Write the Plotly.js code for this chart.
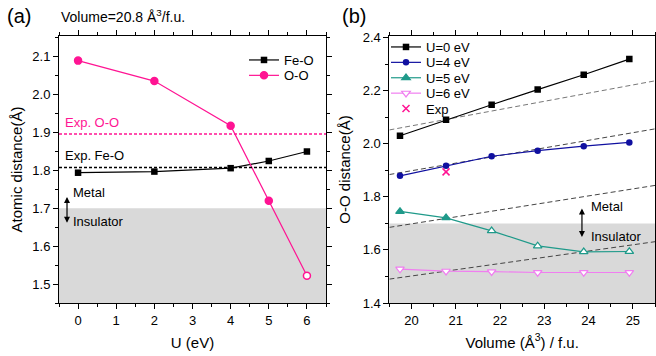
<!DOCTYPE html>
<html><head><meta charset="utf-8">
<script src="https://cdn.plot.ly/plotly-3.0.1.min.js"></script>
<style>html,body{margin:0;padding:0;background:#fff}</style>
</head><body>
<div id="plot" style="width:656px;height:356px"></div>
<script>
// ---- Panel (a) data ----
const uVals = [0, 2, 4, 5, 6];
const feO = [1.794, 1.797, 1.806, 1.825, 1.850];
const oO = [2.090, 2.036, 1.918, 1.720, 1.522];
const expOO = 1.896;
const expFeO = 1.808;

// ---- Panel (b) data ----
const volumes = [19.74, 20.78, 21.81, 22.85, 23.89, 24.92];
const u0 = [2.030, 2.090, 2.147, 2.204, 2.260, 2.319];
const u4 = [1.879, 1.917, 1.953, 1.974, 1.991, 2.005];
const u5 = [1.745, 1.721, 1.672, 1.615, 1.593, 1.594];
const u6 = [1.528, 1.520, 1.518, 1.515, 1.515, 1.515];
const expVol = [20.78];
const expDist = [1.894];
const guideX = [19.5, 25.5];
const guide1 = [2.052, 2.237];
const guide2 = [1.884, 2.056];
const guide3 = [1.685, 1.843];
const guide4 = [1.490, 1.631];

const PINK = '#ff1493', BLUE = '#1010a0', TEAL = '#1f9a8a', VIOLET = '#f07ef0';
const FONT = 'Liberation Sans, Arial, sans-serif';

const traces = [
  {x: uVals, y: feO, name: 'Fe-O', mode: 'lines+markers', xaxis: 'x', yaxis: 'y', legend: 'legend',
   line: {color: '#000', width: 1.2}, marker: {symbol: 'square', size: 6.5, color: '#000'}},
  {x: uVals, y: oO, name: 'O-O', mode: 'lines+markers', xaxis: 'x', yaxis: 'y', legend: 'legend',
   line: {color: PINK, width: 1.2},
   marker: {symbol: 'circle', size: 7, color: [PINK, PINK, PINK, PINK, '#fff'], line: {color: PINK, width: 1.5}}},
  // guide lines (b)
  {x: guideX, y: guide1, mode: 'lines', xaxis: 'x2', yaxis: 'y2', showlegend: false, hoverinfo: 'skip',
   line: {color: '#777', width: 1, dash: '5px,3px'}},
  {x: guideX, y: guide2, mode: 'lines', xaxis: 'x2', yaxis: 'y2', showlegend: false, hoverinfo: 'skip',
   line: {color: '#444', width: 1, dash: '5px,3px'}},
  {x: guideX, y: guide3, mode: 'lines', xaxis: 'x2', yaxis: 'y2', showlegend: false, hoverinfo: 'skip',
   line: {color: '#444', width: 1, dash: '5px,3px'}},
  {x: guideX, y: guide4, mode: 'lines', xaxis: 'x2', yaxis: 'y2', showlegend: false, hoverinfo: 'skip',
   line: {color: '#444', width: 1, dash: '5px,3px'}},
  {x: volumes, y: u0, name: 'U=0 eV', mode: 'lines+markers', xaxis: 'x2', yaxis: 'y2', legend: 'legend2',
   line: {color: '#000', width: 1.2}, marker: {symbol: 'square', size: 6.5, color: '#000'}},
  {x: volumes, y: u4, name: 'U=4 eV', mode: 'lines+markers', xaxis: 'x2', yaxis: 'y2', legend: 'legend2',
   line: {color: BLUE, width: 1.2}, marker: {symbol: 'circle', size: 6.5, color: BLUE}},
  {x: volumes, y: u5, name: 'U=5 eV', mode: 'lines+markers', xaxis: 'x2', yaxis: 'y2', legend: 'legend2',
   line: {color: TEAL, width: 1.2},
   marker: {symbol: 'triangle-up', size: 7.5, color: [TEAL, TEAL, '#fff', '#fff', '#fff', '#fff'], line: {color: TEAL, width: 1.2}}},
  {x: volumes, y: u6, name: 'U=6 eV', mode: 'lines+markers', xaxis: 'x2', yaxis: 'y2', legend: 'legend2',
   line: {color: VIOLET, width: 1.2},
   marker: {symbol: 'triangle-down', size: 7.5, color: '#fff', line: {color: VIOLET, width: 1.2}}},
  {x: expVol, y: expDist, name: 'Exp', mode: 'markers', xaxis: 'x2', yaxis: 'y2', legend: 'legend2',
   marker: {symbol: 'x-thin', size: 7, color: PINK, line: {color: PINK, width: 1.5}}}
];

const axBase = {
  showline: true, linecolor: '#000', linewidth: 1, mirror: 'ticks',
  ticks: 'outside', ticklen: 5, tickwidth: 1, tickcolor: '#000',
  showgrid: false, zeroline: false,
  tickfont: {family: FONT, size: 13, color: '#000'},
  title: {font: {family: FONT, size: 15, color: '#000'}}
};

const layout = {
  width: 656, height: 356,
  margin: {l: 59, r: 1, t: 36, b: 53},
  paper_bgcolor: '#fff', plot_bgcolor: 'rgba(0,0,0,0)',
  font: {family: FONT, color: '#000'},
  xaxis: Object.assign({}, axBase, {domain: [0, 0.448], range: [-0.5, 6.5], dtick: 1, tick0: 0,
    minor: {dtick: 0.5, ticks: 'outside', ticklen: 3, tickcolor: '#000'},
    title: {text: 'U (eV)', standoff: 10, font: {family: FONT, size: 15, color: '#000'}}}),
  yaxis: Object.assign({}, axBase, {domain: [0, 1], range: [1.45, 2.155], dtick: 0.1, tick0: 1.5, tickformat: '.1f',
    minor: {dtick: 0.05, ticks: 'outside', ticklen: 3, tickcolor: '#000'},
    title: {text: 'Atomic distance(Å)', standoff: 6, font: {family: FONT, size: 15, color: '#000'}}}),
  xaxis2: Object.assign({}, axBase, {domain: [0.5543, 1], range: [19.5, 25.5], dtick: 1, tick0: 20, anchor: 'y2',
    minor: {dtick: 0.5, ticks: 'outside', ticklen: 3, tickcolor: '#000'},
    title: {text: 'Volume (Å<sup>3</sup>) / f.u.', standoff: 10, font: {family: FONT, size: 15, color: '#000'}}}),
  yaxis2: Object.assign({}, axBase, {domain: [0, 1], range: [1.4, 2.406], dtick: 0.2, tick0: 1.4, tickformat: '.1f', anchor: 'x2',
    minor: {dtick: 0.1, ticks: 'outside', ticklen: 3, tickcolor: '#000'},
    title: {text: 'O-O distance(Å)', standoff: 8, font: {family: FONT, size: 15, color: '#000'}}}),
  legend: {x: (244 - 59) / 596, y: (303 - 45) / 267, xanchor: 'left', yanchor: 'top', bgcolor: 'rgba(0,0,0,0)',
    font: {family: FONT, size: 13, color: '#000'}, tracegroupgap: 0, itemwidth: 30},
  legend2: {x: (386 - 59) / 596, y: (303 - 32) / 267, xanchor: 'left', yanchor: 'top', bgcolor: 'rgba(0,0,0,0)',
    font: {family: FONT, size: 13, color: '#000'}, tracegroupgap: 0, itemwidth: 30},
  shapes: [
    {type: 'rect', xref: 'x domain', yref: 'y', x0: 0, x1: 1, y0: 1.45, y1: 1.7, fillcolor: '#d9d9d9', line: {width: 0}, layer: 'below'},
    {type: 'rect', xref: 'x2 domain', yref: 'y2', x0: 0, x1: 1, y0: 1.4, y1: 1.7, fillcolor: '#d9d9d9', line: {width: 0}, layer: 'below'},
    {type: 'line', xref: 'x domain', yref: 'y', x0: 0, x1: 1, y0: expOO, y1: expOO, line: {color: PINK, width: 1.5, dash: '3px,2px'}},
    {type: 'line', xref: 'x domain', yref: 'y', x0: 0, x1: 1, y0: expFeO, y1: expFeO, line: {color: '#000', width: 1.5, dash: '3px,2px'}}
  ],
  annotations: [
    {xref: 'paper', yref: 'paper', x: (5 - 59) / 596, y: (303 - 16) / 267, xanchor: 'left', yanchor: 'middle', showarrow: false,
     text: '(a)', font: {family: FONT, size: 20, color: '#000'}},
    {xref: 'paper', yref: 'paper', x: (340 - 59) / 596, y: (303 - 16) / 267, xanchor: 'left', yanchor: 'middle', showarrow: false,
     text: '(b)', font: {family: FONT, size: 20, color: '#000'}},
    {xref: 'paper', yref: 'paper', x: (59 - 59) / 596, y: (303 - 16) / 267, xanchor: 'left', yanchor: 'middle', showarrow: false,
     text: 'Volume=20.8 Å<sup>3</sup>/f.u.', font: {family: FONT, size: 14, color: '#000'}},
    {xref: 'x', yref: 'y', x: -0.4, y: 1.927, xanchor: 'left', yanchor: 'middle', showarrow: false,
     text: 'Exp. O-O', font: {family: FONT, size: 13, color: PINK}},
    {xref: 'x', yref: 'y', x: -0.4, y: 1.839, xanchor: 'left', yanchor: 'middle', showarrow: false,
     text: 'Exp. Fe-O', font: {family: FONT, size: 13, color: '#000'}},
    {xref: 'x', yref: 'y', x: -0.19, y: 1.742, xanchor: 'left', yanchor: 'middle', showarrow: false,
     text: 'Metal', font: {family: FONT, size: 13, color: '#000'}},
    {xref: 'x', yref: 'y', x: -0.19, y: 1.664, xanchor: 'left', yanchor: 'middle', showarrow: false,
     text: 'Insulator', font: {family: FONT, size: 13, color: '#000'}},
    {xref: 'x', yref: 'y', x: -0.29, y: 1.662, axref: 'x', ayref: 'y', ax: -0.29, ay: 1.734, text: '', showarrow: true,
     arrowhead: 2, startarrowhead: 2, arrowside: 'end+start', arrowsize: 1, arrowwidth: 1.2, arrowcolor: '#000'},
    {xref: 'x2', yref: 'y2', x: 24.0, y: 1.763, xanchor: 'left', yanchor: 'middle', showarrow: false,
     text: 'Metal', font: {family: FONT, size: 13, color: '#000'}},
    {xref: 'x2', yref: 'y2', x: 24.0, y: 1.649, xanchor: 'left', yanchor: 'middle', showarrow: false,
     text: 'Insulator', font: {family: FONT, size: 13, color: '#000'}},
    {xref: 'x2', yref: 'y2', x: 23.85, y: 1.649, axref: 'x2', ayref: 'y2', ax: 23.85, ay: 1.762, text: '', showarrow: true,
     arrowhead: 2, startarrowhead: 2, arrowside: 'end+start', arrowsize: 1, arrowwidth: 1.2, arrowcolor: '#000'}
  ]
};

const gd = document.getElementById('plot');
Plotly.newPlot(gd, traces, layout, {staticPlot: true, displayModeBar: false}).then(function () {
  // tighten legend row spacing to match the compact reference legends
  const ROW = 15.4;
  ['legend', 'legend2'].forEach(function (id) {
    try {
      const g = gd.querySelector('g.' + id);
      if (!g) return;
      const items = g.querySelectorAll('g.traces');
      let y0 = null;
      items.forEach(function (it, i) {
        const tr = it.getAttribute('transform') || '';
        const m = /translate\(\s*([-\d.eE]+)[\s,]+([-\d.eE]+)\s*\)/.exec(tr);
        if (!m) return;
        const x = parseFloat(m[1]), y = parseFloat(m[2]);
        if (y0 === null) y0 = y;
        it.setAttribute('transform', 'translate(' + x + ',' + (y0 + i * ROW) + ')');
      });
    } catch (e) {}
  });
});
</script>
</body></html>
